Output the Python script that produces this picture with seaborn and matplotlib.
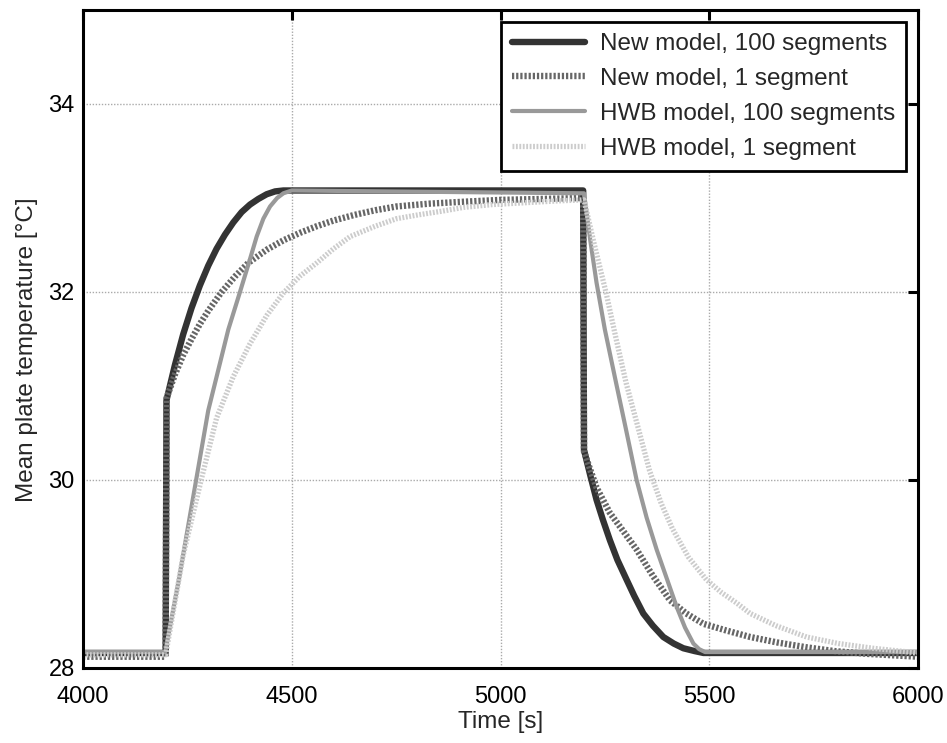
import numpy as np
import pandas as pd
import seaborn as sns
import matplotlib
matplotlib.use("Agg")
import matplotlib.pyplot as plt
from matplotlib.lines import Line2D

# ---- data ----
new100_t = [4000, 4198, 4200, 4220, 4240, 4260, 4280, 4300, 4320, 4340, 4360, 4380, 4400, 4420, 4440, 4460, 4480, 4500,
            5198, 5200, 5215, 5230, 5245, 5262, 5280, 5302, 5320, 5342, 5365, 5390, 5415, 5438, 5465, 5486, 6000]
new100_y = [28.16, 28.16, 30.85, 31.22, 31.55, 31.83, 32.07, 32.28, 32.46, 32.61, 32.74, 32.85, 32.93, 32.99, 33.04, 33.07, 33.08, 33.08,
            33.08, 30.32, 30.05, 29.79, 29.58, 29.36, 29.15, 28.94, 28.77, 28.58, 28.45, 28.33, 28.26, 28.21, 28.18, 28.16, 28.16]

new1_t = [4000, 4198, 4200, 4220, 4240, 4260, 4280, 4300, 4332, 4365, 4396, 4440, 4480, 4520, 4560, 4600, 4650, 4700, 4751,
          4830, 4911, 5000, 5100, 5198, 5200, 5230, 5262, 5295, 5326, 5365, 5406, 5445, 5486, 5540, 5598, 5665,
          5733, 5800, 5880, 6000]
new1_y = [28.12, 28.12, 30.87, 31.12, 31.33, 31.50, 31.66, 31.80, 32.00, 32.17, 32.31, 32.45, 32.55, 32.63, 32.70, 32.76, 32.82, 32.87, 32.91,
          32.94, 32.96, 32.98, 32.99, 33.00, 30.30, 29.92, 29.65, 29.45, 29.26, 28.98, 28.72, 28.58, 28.47, 28.40, 28.33, 28.27,
          28.22, 28.18, 28.15, 28.12]

hwb100_t = [4000, 4197, 4230, 4271, 4300, 4348, 4376, 4400, 4416, 4432, 4448, 4465, 4480, 4500,
            5200, 5215, 5230, 5250, 5277, 5300, 5326, 5350, 5374, 5400, 5422, 5442, 5462, 5476, 5490, 6000]
hwb100_y = [28.17, 28.17, 28.95, 30.00, 30.74, 31.60, 32.00, 32.35, 32.59, 32.78, 32.91, 33.00, 33.05, 33.08,
            33.05, 32.55, 32.10, 31.60, 31.03, 30.55, 30.00, 29.60, 29.26, 28.93, 28.65, 28.43, 28.26, 28.20, 28.17, 28.17]

hwb1_t = [4000, 4198, 4240, 4283, 4320, 4360, 4400, 4440, 4480, 4520, 4560, 4600, 4640, 4700, 4751, 4802, 4860, 4911,
          4980, 5060, 5140, 5200, 5225, 5253, 5277, 5301, 5330, 5357, 5385, 5412, 5450, 5493, 5530, 5566, 5598, 5660,
          5733, 5810, 5892, 6000]
hwb1_y = [28.14, 28.14, 29.20, 30.00, 30.66, 31.10, 31.45, 31.75, 31.99, 32.17, 32.31, 32.46, 32.59, 32.70, 32.78, 32.82, 32.86, 32.90,
          32.93, 32.95, 32.97, 32.98, 32.50, 31.99, 31.50, 31.03, 30.55, 30.10, 29.75, 29.48, 29.18, 28.94, 28.80, 28.69, 28.58, 28.45,
          28.33, 28.26, 28.21, 28.16]

labels = ["New model, 100 segments", "New model, 1 segment",
          "HWB model, 100 segments", "HWB model, 1 segment"]
series_t = [new100_t, new1_t, hwb100_t, hwb1_t]
series_y = [new100_y, new1_y, hwb100_y, hwb1_y]

colors = ["#333333", "#666666", "#999999", "#cccccc"]
widths = [4.6, 4.6, 3.0, 3.8]
dotted = (0, (0.35, 0.3))
styles = ["-", dotted, "-", dotted]

sns.set_style("white")
plt.rcParams['font.family'] = ['Liberation Sans', 'DejaVu Sans']

fig = plt.figure(figsize=(9.47, 7.43), dpi=100)
ax = fig.add_axes([83/947, 1 - 668/743, (918-83)/947, (668-10)/743])

for t, y, c, w, s, lab in zip(series_t, series_y, colors, widths, styles, labels):
    df = pd.DataFrame({"t": t, "y": y})
    sns.lineplot(data=df, x="t", y="y", ax=ax, color=c, linewidth=w, linestyle=s,
                 estimator=None, sort=False, legend=False)

ax.set_xlim(4000, 6000)
ax.set_ylim(28, 35)
ax.set_xticks([4000, 4500, 5000, 5500, 6000])
ax.set_yticks([28, 30, 32, 34])
ax.grid(True, color="#aaaaaa", linestyle=(0, (1, 1.2)), linewidth=1.0)
for sp in ax.spines.values():
    sp.set_visible(True)
    sp.set_color("black")
    sp.set_linewidth(2.2)
ax.tick_params(direction="in", length=7, width=2.2, top=True, right=True,
               labelsize=17, colors="black")
ax.tick_params(axis="x", pad=13)
ax.tick_params(axis="y", pad=6)
ax.set_xlabel("Time [s]", fontsize=17.5, labelpad=2)
ax.set_ylabel("Mean plate temperature [°C]", fontsize=17.5, labelpad=8)
ax.yaxis.set_label_coords(-0.054, 0.483)

handles = [Line2D([], [], color=c, linewidth=w, linestyle=s) for c, w, s in zip(colors, widths, styles)]
leg = ax.legend(handles, labels, loc="upper right", fontsize=17.5, frameon=True, fancybox=False,
                framealpha=1, edgecolor="black", handlelength=3.0, handletextpad=0.62,
                borderpad=0.45, labelspacing=0.53, borderaxespad=0.5)
leg.get_frame().set_linewidth(2.0)

fig.savefig("out.png", dpi=100)
